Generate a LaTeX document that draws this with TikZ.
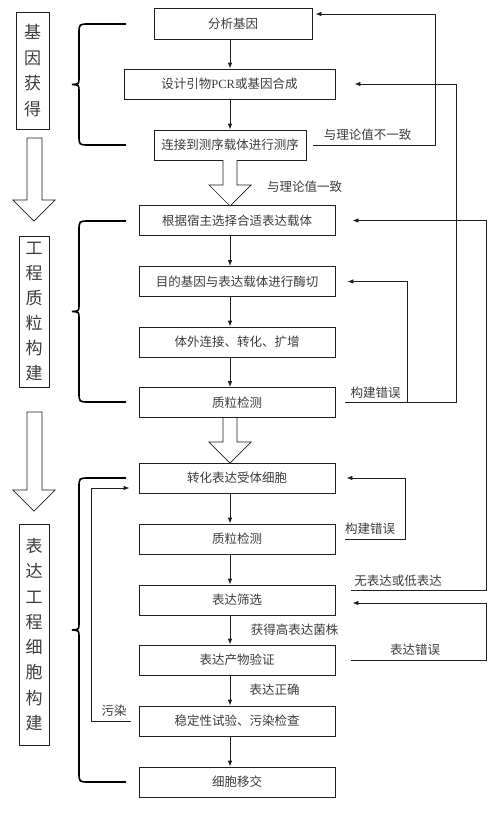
\documentclass[tikz,border=0pt]{standalone}
\usepackage{fontspec}
\setmainfont{Noto Sans CJK SC}
\newfontfamily\latinfont{Liberation Serif}
\usetikzlibrary{arrows.meta,calc}
\definecolor{txt}{RGB}{60,60,60}
\definecolor{ln}{RGB}{30,30,30}
\begin{document}
\begin{tikzpicture}[x=1pt,y=-1pt,
  box/.style={draw=ln, line width=0.8pt, minimum height=30pt, inner sep=0pt,
    font=\fontsize{12.5}{15}\selectfont, text=txt},
  wbox/.style={box, minimum width=196pt},
  lbox/.style={draw=ln, line width=0.8pt, inner sep=0pt, align=center,
    minimum width=30pt, font=\fontsize{17}{25}\selectfont, text=txt},
  lab/.style={inner sep=0pt, font=\fontsize{12.5}{15}\selectfont, text=txt},
  arr/.style={draw=ln, line width=0.8pt, -{Latex[length=6pt,width=4.5pt]}},
  fb/.style={draw=ln, line width=0.8pt, -{Latex[length=6pt,width=4.5pt]}},
  hollow/.style={draw=ln, line width=0.7pt, fill=white},
  brace/.style={draw=black, line width=1.6pt}]
\useasboundingbox (0,0) rectangle (502,823);
\coordinate (axis) at (230,0);

% main boxes
\node[box, minimum width=158pt, minimum height=31pt] (b1) at (233,23.5) {分析基因};
\node[box, minimum width=211pt] (b2) at (229.5,84) {设计引物{\latinfont PCR}或基因合成};
\node[box, minimum width=152pt] (b3) at (230,145) {连接到测序载体进行测序};
\node[wbox] (b4) at (237,220.5) {根据宿主选择合适表达载体};
\node[wbox] (b5) at (237,281.5) {目的基因与表达载体进行酶切};
\node[wbox] (b6) at (237,342) {体外连接、转化、扩增};
\node[wbox] (b7) at (237,402.5) {质粒检测};
\node[wbox] (b8) at (237,478) {转化表达受体细胞};
\node[wbox] (b9) at (237,539) {质粒检测};
\node[wbox] (b10) at (237,600) {表达筛选};
\node[wbox] (b11) at (237,660) {表达产物验证};
\node[wbox] (b12) at (237,721) {稳定性试验、污染检查};
\node[wbox] (b13) at (237,782) {细胞移交};

% left stage labels
\node[lbox, minimum width=33pt, minimum height=117pt, font=\fontsize{17}{25.5}\selectfont] (L1) at (32.5,70.5) {基\\因\\获\\得};
\node[lbox, minimum height=151pt] (L2) at (34,311.5) {工\\程\\质\\粒\\构\\建};
\node[lbox, minimum height=221pt, font=\fontsize{17}{25.3}\selectfont] (L3) at (34,634.5) {表\\达\\工\\程\\细\\胞\\构\\建};

% straight arrows
\draw[arr] (b1.south -| axis) -- (b2.north -| axis);
\draw[arr] (b2.south -| axis) -- (b3.north -| axis);
\draw[arr] (b4.south -| axis) -- (b5.north -| axis);
\draw[arr] (b5.south -| axis) -- (b6.north -| axis);
\draw[arr] (b6.south -| axis) -- (b7.north -| axis);
\draw[arr] (b8.south -| axis) -- (b9.north -| axis);
\draw[arr] (b9.south -| axis) -- (b10.north -| axis);
\draw[arr] (b10.south -| axis) -- (b11.north -| axis);
\draw[arr] (b11.south -| axis) -- (b12.north -| axis);
\draw[arr] (b12.south -| axis) -- (b13.north -| axis);

% hollow arrows
\draw[hollow] (223,160) -- (223,185) -- (209,185) -- (230,206) -- (251,185) -- (237,185) -- (237,160);
\draw[hollow] (223,418) -- (223,442) -- (209,442) -- (230,463) -- (251,442) -- (237,442) -- (237,418);
\draw[hollow] (27,138) -- (42,138) -- (42,200) -- (55,200) -- (34,221) -- (13,200) -- (27,200) -- cycle;
\draw[hollow] (27,412) -- (42,412) -- (42,490) -- (55,490) -- (34,511) -- (13,490) -- (27,490) -- cycle;

% feedback loops
\draw[fb] ([xshift=7pt]b3.east) -- ++(122,0) |- ([xshift=3pt,yshift=9.5pt]b1.east);
\draw[fb] ([xshift=10pt]b7.east) -- ++(111,0) |- ([xshift=19pt]b2.east);
\draw[fb] ([xshift=72pt]b7.east) |- ([xshift=12pt]b5.east);
\draw[fb] ([xshift=16pt,yshift=10pt]b10.east) -- ++(135,0) |- ([xshift=17pt]b4.east);
\draw[fb] ([xshift=10pt]b9.east) -- ++(60,0) |- ([xshift=11pt]b8.east);
\draw[fb] ([xshift=16pt]b11.east) -- ++(135,0) |- ([xshift=17pt,yshift=-3pt]b10.east);
\draw[fb] ([xshift=-8pt]b12.west) -- ++(-39,0) |- ([xshift=-9pt,yshift=-10pt]b8.west);

% labels
\node[lab] (t1) at (367.5,135) {与理论值不一致};
\node[lab] (t2) at (304.5,187) {与理论值一致};
\node[lab] (t3) at (375.5,393) {构建错误};
\node[lab] (t4) at (370,529) {构建错误};
\node[lab] (t5) at (398,581) {无表达或低表达};
\node[lab] (t6) at (294.5,630) {获得高表达菌株};
\node[lab] (t7) at (415,650) {表达错误};
\node[lab] (t8) at (274.5,689.5) {表达正确};
\node[lab] (t9) at (114,711) {污染};

% braces
\draw[brace] (126,24) -- (89,24) .. controls (79,24) .. (79,34) -- (79,78) .. controls (79,84) .. (72,84.5) .. controls (79,85) .. (79,91) -- (79,135) .. controls (79,145) .. (89,145) -- (126,145);
\draw[brace] (126,221) -- (89,221) .. controls (79,221) .. (79,231) -- (79,305) .. controls (79,311) .. (72,311.5) .. controls (79,312) .. (79,318) -- (79,392) .. controls (79,402) .. (89,402) -- (126,402);
\draw[brace] (126,478) -- (89,478) .. controls (79,478) .. (79,488) -- (79,623.5) .. controls (79,629.5) .. (72,630) .. controls (79,630.5) .. (79,636.5) -- (79,772) .. controls (79,782) .. (89,782) -- (126,782);
\end{tikzpicture}
\end{document}
